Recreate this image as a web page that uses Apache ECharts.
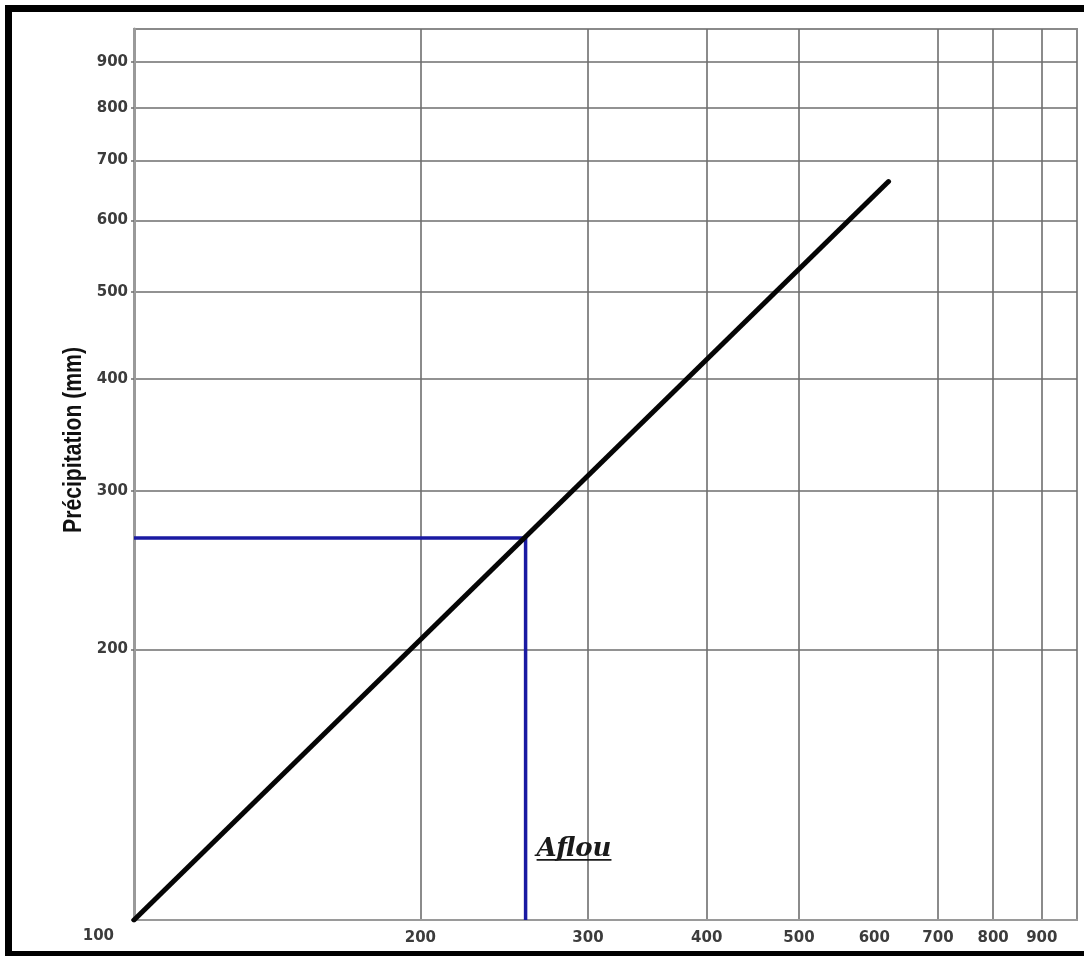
<!DOCTYPE html>
<html>
<head>
<meta charset="utf-8">
<script src="https://cdn.jsdelivr.net/npm/echarts@6/dist/echarts.min.js"></script>
<style>
  html, body { margin: 0; padding: 0; background: #ffffff; }
  #chart { width: 1084px; height: 956px; }
</style>
</head>
<body>
<div id="chart"></div>
<script>
// Log-log precipitation chart with the Aflou reading
const axisMin = 100;
const axisMax = 980;
const xGridValues = [200, 300, 400, 500, 700, 800, 900];
const xLabelValues = [200, 300, 400, 500, 600, 700, 800, 900];
const yTickValues = [100, 200, 300, 400, 500, 600, 700, 800, 900];
const yAxisTitle = 'Précipitation (mm)';
const trendLine = [[100, 100], [621, 663]];
const stationName = 'Aflou';
const stationPoint = [258, 266];
const stationLabelY = 120;

const stationPath = [
  [axisMin, stationPoint[1]],
  [stationPoint[0], stationPoint[1]],
  [stationPoint[0], axisMin]
];

const labelFont = {
  color: '#3c3c3c',
  fontFamily: 'DejaVu Sans',
  fontWeight: 'bold',
  fontSize: 15
};

const chart = echarts.init(document.getElementById('chart'), null, { renderer: 'canvas' });

chart.setOption({
  animation: false,
  backgroundColor: '#ffffff',
  grid: {
    left: 134, right: 7, top: 29, bottom: 36,
    show: true, borderColor: '#8a8a8a', borderWidth: 2, backgroundColor: 'transparent'
  },
  xAxis: {
    type: 'log',
    logBase: 10,
    min: axisMin,
    max: axisMax,
    axisLine: { show: true, lineStyle: { color: '#9a9a9a', width: 2 } },
    axisTick: { show: false, customValues: xGridValues },
    axisLabel: Object.assign({ customValues: xLabelValues, margin: 11 }, labelFont),
    splitLine: { show: true, lineStyle: { color: '#6e6e6e', width: 1.6 } },
    minorTick: { show: false },
    minorSplitLine: { show: false }
  },
  yAxis: {
    type: 'log',
    logBase: 10,
    min: axisMin,
    max: axisMax,
    axisLine: { show: true, lineStyle: { color: '#9a9a9a', width: 3 } },
    axisTick: { show: true, length: 3, customValues: yTickValues, lineStyle: { color: '#6e6e6e', width: 1.5 } },
    axisLabel: Object.assign({
      customValues: yTickValues,
      margin: 6,
      formatter: function (v) {
        return v === axisMin ? '{low|' + v + '}' : String(v);
      },
      rich: {
        low: Object.assign({ padding: [32, 14, 0, 0] }, labelFont)
      }
    }, labelFont),
    splitLine: { show: true, lineStyle: { color: '#6e6e6e', width: 1.6 } },
    minorTick: { show: false },
    minorSplitLine: { show: false }
  },
  series: [
    {
      name: 'relation',
      type: 'line',
      data: trendLine,
      symbol: 'none',
      lineStyle: { color: '#050505', width: 5, cap: 'round' },
      z: 5
    },
    {
      name: stationName,
      type: 'line',
      data: stationPath,
      symbol: 'none',
      lineStyle: { color: '#1a1aa2', width: 3.5, join: 'miter' },
      z: 4
    }
  ]
});

// Station name under the blue reading, bold italic and underlined
const anchor = chart.convertToPixel({ gridIndex: 0 }, [stationPoint[0], stationLabelY]);
const nameFont = 'italic bold 26px "DejaVu Serif"';
const measure = document.createElement('canvas').getContext('2d');
measure.font = nameFont;
const nameWidth = measure.measureText(stationName).width;
const textLeft = anchor[0] + 11;

// Condensed vertical axis title, centred beside the plot
const titleFont = 'bold 26px "Liberation Sans", Arial, sans-serif';
measure.font = titleFont;
const titleScale = 186 / measure.measureText(yAxisTitle).width;

chart.setOption({
  graphic: [
    {
      type: 'rect',
      silent: true,
      shape: { x: 8.5, y: 8.5, width: 1100, height: 946 },
      style: { fill: 'none', stroke: '#000000', lineWidth: 7 },
      z: 100
    },
    {
      type: 'text',
      silent: true,
      x: 74,
      y: 440,
      rotation: Math.PI / 2,
      scaleX: titleScale,
      style: {
        text: yAxisTitle,
        font: titleFont,
        fill: '#111111',
        align: 'center',
        verticalAlign: 'middle'
      },
      z: 50
    },
    {
      type: 'text',
      silent: true,
      x: textLeft,
      y: anchor[1],
      style: {
        text: stationName,
        font: nameFont,
        fill: '#1a1a1a',
        verticalAlign: 'middle',
        align: 'left'
      },
      z: 50
    },
    {
      type: 'line',
      silent: true,
      shape: { x1: textLeft, y1: anchor[1] + 11, x2: textLeft + nameWidth, y2: anchor[1] + 11 },
      style: { stroke: '#1a1a1a', lineWidth: 1.8 },
      z: 50
    }
  ]
});
</script>
</body>
</html>
